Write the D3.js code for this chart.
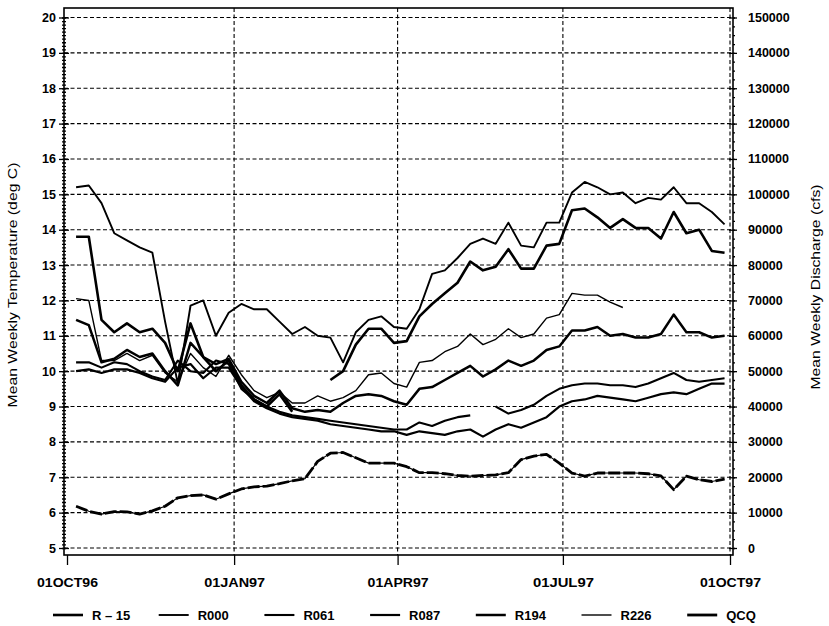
<!DOCTYPE html>
<html>
<head>
<meta charset="utf-8">
<script src="https://cdn.jsdelivr.net/npm/d3@7"></script>
<style>
  body { margin: 0; background: #fff; }
  text { font-family: "Liberation Sans", Arial, sans-serif; fill: #000; }
</style>
</head>
<body>
<svg id="chart" width="829" height="626"></svg>
<script>
// weekly samples, Sunday 06OCT96 .. Sunday 28SEP97
const weeks = d3.timeWeek.range(new Date(1996, 9, 6), new Date(1997, 8, 29));

const seriesNames = ["R-15", "R000", "R061", "R087", "R194", "R226", "QCQ"];

// mean weekly temperature (deg C)
const r15 = [13.8, 13.8, 11.45, 11.1, 11.35, 11.1, 11.2, 10.8, 10.0, 11.35, 10.4, 10.0, 10.3, 9.6, 9.2, 9.0, 9.35, 8.85,
  null, null, 9.75, 10.0, 10.75, 11.2, 11.2, 10.8, 10.85, 11.55, 11.9, 12.2, 12.5, 13.1, 12.85, 12.95, 13.45, 12.9,
  12.9, 13.55, 13.6, 14.55, 14.6, 14.35, 14.05, 14.3, 14.05, 14.05, 13.75, 14.5, 13.9, 14.0, 13.4, 13.35];
const r000 = [15.2, 15.25, 14.75, 13.9, 13.7, 13.5, 13.35, 11.4, 9.65, 11.85, 12.0, 11.0, 11.65, 11.9, 11.75, 11.75, 11.4, 11.05,
  11.25, 11.0, 10.95, 10.25, 11.1, 11.45, 11.55, 11.25, 11.2, 11.75, 12.75, 12.85, 13.2, 13.6, 13.75, 13.6, 14.2, 13.55,
  13.5, 14.2, 14.2, 15.05, 15.35, 15.2, 15.0, 15.05, 14.75, 14.9, 14.85, 15.2, 14.75, 14.75, 14.5, 14.15];
const r061 = [10.25, 10.25, 10.1, 10.25, 10.2, 10.0, 9.85, 9.75, 10.3, 10.0, 9.95, 10.3, 10.2, 9.5, 9.2, 9.0, 8.85, 8.75,
  8.7, 8.65, 8.6, 8.55, 8.5, 8.45, 8.4, 8.35, 8.35, 8.55, 8.45, 8.6, 8.7, 8.75, null, 9.0, 8.8, 8.9,
  9.05, 9.3, 9.5, 9.6, 9.65, 9.65, 9.6, 9.6, 9.55, 9.65, 9.8, 9.95, 9.75, 9.7, 9.75, 9.8];
const r087 = [10.0, 10.05, 9.95, 10.05, 10.05, 9.95, 9.8, 9.7, 10.1, 10.2, 9.8, 10.1, 10.1, 9.55, 9.15, 8.95, 8.8, 8.7,
  8.65, 8.6, 8.5, 8.45, 8.4, 8.35, 8.3, 8.3, 8.2, 8.3, 8.25, 8.2, 8.3, 8.35, 8.15, 8.35, 8.5, 8.4,
  8.55, 8.7, 9.0, 9.15, 9.2, 9.3, 9.25, 9.2, 9.15, 9.25, 9.35, 9.4, 9.35, 9.5, 9.65, 9.65];
const r194 = [11.45, 11.3, 10.25, 10.35, 10.6, 10.4, 10.5, 10.0, 9.6, 10.8, 10.4, 10.2, 10.35, 9.7, 9.3, 9.1, 9.45, 8.95,
  8.85, 8.9, 8.85, 9.1, 9.3, 9.35, 9.3, 9.15, 9.05, 9.5, 9.55, 9.75, 9.95, 10.15, 9.85, 10.05, 10.3, 10.15,
  10.3, 10.6, 10.7, 11.15, 11.15, 11.25, 11.0, 11.05, 10.95, 10.95, 11.05, 11.6, 11.1, 11.1, 10.95, 11.0];
const r226 = [12.05, 12.0, 10.3, 10.3, 10.5, 10.3, 10.45, 9.95, 9.7, 10.5, 10.1, 9.85, 10.45, 9.9, 9.45, 9.25, 9.4, 9.1,
  9.1, 9.3, 9.15, 9.25, 9.45, 9.9, 9.95, 9.65, 9.55, 10.25, 10.3, 10.55, 10.7, 11.05, 10.75, 10.9, 11.2, 10.95,
  11.05, 11.5, 11.6, 12.2, 12.15, 12.15, 11.95, 11.8, null, null, null, null, null, null, null, null];

// mean weekly discharge (cfs)
const qcq = [11800, 10400, 9600, 10300, 10200, 9600, 10500, 11800, 14200, 14800, 15000, 13800, 15300, 16700, 17300, 17500,
  18200, 19000, 19600, 24500, 26800, 27000, 25500, 24000, 24000, 24000, 23000, 21300, 21300, 21000, 20500, 20300,
  20500, 20700, 21300, 25000, 26000, 26500, 24000, 21200, 20300, 21200, 21200, 21200, 21200, 21000, 20400, 16500,
  20300, 19300, 18800, 19500];

const tempTicks = [5, 6, 7, 8, 9, 10, 11, 12, 13, 14, 15, 16, 17, 18, 19, 20];
const flowTicks = [0, 10000, 20000, 30000, 40000, 50000, 60000, 70000, 80000, 90000, 100000,
  110000, 120000, 130000, 140000, 150000];
const dateTicks = [new Date(1996, 9, 1), new Date(1997, 0, 1), new Date(1997, 3, 1), new Date(1997, 6, 1), new Date(1997, 9, 1)];
const dateLabels = ["01OCT96", "01JAN97", "01APR97", "01JUL97", "01OCT97"];

const temps = [r15, r000, r061, r087, r194, r226];
const widths = [2.6, 1.9, 2.1, 2.2, 2.5, 1.4];

const svg = d3.select("#chart");
const plot = {left: 64, right: 733, top: 8, bottom: 555};

const x = d3.scaleTime().domain([dateTicks[0], dateTicks[4]]).range([67, 730]);
const yT = d3.scaleLinear().domain([5, 20]).range([548, 17.5]);
const yQ = d3.scaleLinear().domain([0, 150000]).range([548, 17.5]);

// grid
svg.append("g").selectAll("line").data(tempTicks).join("line")
    .attr("x1", plot.left).attr("x2", plot.right)
    .attr("y1", d => yT(d)).attr("y2", d => yT(d))
    .attr("stroke", "#000").attr("stroke-width", 1.1).attr("stroke-dasharray", "4,2.5");
svg.append("g").selectAll("line").data(dateTicks.slice(1)).join("line")
    .attr("x1", d => x(d)).attr("x2", d => x(d))
    .attr("y1", plot.top).attr("y2", plot.bottom)
    .attr("stroke", "#000").attr("stroke-width", 1.1).attr("stroke-dasharray", "4,2.5");

// frame
svg.append("rect")
    .attr("x", plot.left).attr("y", plot.top)
    .attr("width", plot.right - plot.left).attr("height", plot.bottom - plot.top)
    .attr("fill", "none").attr("stroke", "#000").attr("stroke-width", 1.6);

// left axis with dense minor ticks
const minorT = d3.range(50, 201).map(d => d / 10);
svg.append("g").attr("transform", `translate(${plot.left},0)`)
    .call(d3.axisLeft(yT).tickValues(minorT).tickSize(2).tickFormat(""));
svg.append("g").attr("transform", `translate(${plot.left},0)`)
    .call(d3.axisRight(yT).tickValues(minorT).tickSize(2).tickFormat(""));
svg.append("g").attr("transform", `translate(${plot.left},0)`)
    .call(d3.axisRight(yT).tickValues(tempTicks).tickSize(5).tickFormat(""));
svg.append("g").attr("class", "yl").attr("transform", `translate(${plot.left},0)`)
    .call(d3.axisLeft(yT).tickValues(tempTicks).tickSize(5).tickPadding(3));

// right axis
const minorQ = d3.range(0, 150001, 2500);
svg.append("g").attr("transform", `translate(${plot.right},0)`)
    .call(d3.axisRight(yQ).tickValues(minorQ).tickSize(2).tickFormat(""));
svg.append("g").attr("transform", `translate(${plot.right},0)`)
    .call(d3.axisLeft(yQ).tickValues(flowTicks).tickSize(4).tickFormat(""));
svg.append("g").attr("class", "yr").attr("transform", `translate(${plot.right},0)`)
    .call(d3.axisRight(yQ).tickValues(flowTicks).tickSize(4).tickPadding(11).tickFormat(d => d));

// bottom axis
svg.append("g").attr("class", "xa").attr("transform", `translate(0,${plot.bottom})`)
    .call(d3.axisBottom(x).tickValues(dateTicks).tickSize(10).tickPadding(13)
      .tickFormat((d, i) => dateLabels[i]));

svg.selectAll(".domain").remove();
svg.selectAll(".tick line").attr("stroke", "#000").attr("stroke-width", 1.3);
svg.selectAll(".yl text, .yr text")
    .attr("font-size", 12.5).attr("font-weight", "bold")
    .style("font-family", "'Liberation Sans', Arial, sans-serif");
svg.selectAll(".xa text")
    .attr("font-size", 13).attr("font-weight", "bold")
    .attr("textLength", 61).attr("lengthAdjust", "spacingAndGlyphs")
    .style("font-family", "'Liberation Sans', Arial, sans-serif");

// axis titles
svg.append("text")
    .attr("transform", "translate(17,285) rotate(-90)")
    .attr("text-anchor", "middle").attr("font-size", 12.5)
    .attr("textLength", 245).attr("lengthAdjust", "spacingAndGlyphs")
    .text("Mean Weekly Temperature (deg C)");
svg.append("text")
    .attr("transform", "translate(820,287) rotate(-90)")
    .attr("text-anchor", "middle").attr("font-size", 12.5)
    .attr("textLength", 205).attr("lengthAdjust", "spacingAndGlyphs")
    .text("Mean Weekly Discharge (cfs)");

// temperature lines
const lineT = d3.line()
    .defined(d => d != null)
    .x((d, i) => x(weeks[i]))
    .y(d => yT(d));
svg.append("g").selectAll("path").data(temps).join("path")
    .attr("d", lineT)
    .attr("fill", "none").attr("stroke", "#000")
    .attr("stroke-width", (d, i) => widths[i])
    .attr("stroke-linejoin", "round");

// discharge line
const lineQ = d3.line()
    .x((d, i) => x(weeks[i]))
    .y(d => yQ(d));
svg.append("path").datum(qcq).attr("d", lineQ)
    .attr("fill", "none").attr("stroke", "#000").attr("stroke-width", 1.2);
svg.append("path").datum(qcq).attr("d", lineQ)
    .attr("fill", "none").attr("stroke", "#000").attr("stroke-width", 2.8)
    .attr("stroke-dasharray", "12,3").attr("stroke-linejoin", "round");

// legend
const legend = svg.append("g").selectAll("g").data(seriesNames).join("g")
    .attr("transform", (d, i) => `translate(${53 + i * 105.7},615)`);
legend.append("line")
    .attr("x1", 0).attr("x2", 30).attr("y1", 0).attr("y2", 0)
    .attr("stroke", "#000")
    .attr("stroke-width", (d, i) => i < 6 ? widths[i] : 2.8);
legend.append("text")
    .attr("x", 39).attr("y", 5)
    .attr("font-size", 13).attr("font-weight", "bold")
    .text(d => d === "R-15" ? "R – 15" : d);
</script>
</body>
</html>
